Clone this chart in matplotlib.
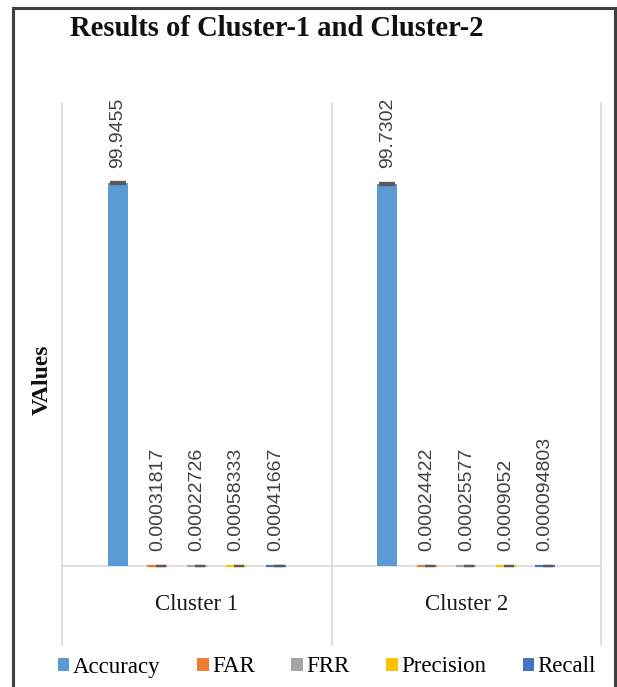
import matplotlib
matplotlib.use("Agg")
import matplotlib.pyplot as plt
from matplotlib.lines import Line2D
from matplotlib.patches import Patch
import numpy as np

# Chart data
clusters = ["Cluster 1", "Cluster 2"]
metrics = ["Accuracy", "FAR", "FRR", "Precision", "Recall"]
accuracy = [99.9455, 99.7302]
far = [0.00031817, 0.00024422]
frr = [0.00022726, 0.00025577]
precision = [0.00058333, 0.0009052]
recall = [0.00041667, 0.000094803]
label_text = {
    "Accuracy": ["99.9455", "99.7302"],
    "FAR": ["0.00031817", "0.00024422"],
    "FRR": ["0.00022726", "0.00025577"],
    "Precision": ["0.00058333", "0.0009052"],
    "Recall": ["0.00041667", "0.000094803"],
}
colors = ["#5B9BD5", "#ED7D31", "#A5A5A5", "#FFC000", "#4472C4"]

series = [accuracy, far, frr, precision, recall]

W, H = 617, 687
fig = plt.figure(figsize=(W / 100, H / 100), dpi=100)
serif = ["Liberation Serif", "DejaVu Serif"]
sans = ["Liberation Sans", "DejaVu Sans"]

# plot area in pixel coordinates
left_px, right_px, top_px, base_px = 62, 601, 106, 566
ax = fig.add_axes([left_px / W, 1 - base_px / H,
                   (right_px - left_px) / W, (base_px - top_px) / H])
ax.set_xlim(-0.5, 1.5)
ax.set_ylim(0, 120)
for s in ax.spines.values():
    s.set_visible(False)
ax.set_xticks([])
ax.set_yticks([])

x = np.arange(len(clusters))
step = 0.1465
width = 0.075
for i, (name, vals, col) in enumerate(zip(metrics, series, colors)):
    pos = x + (i - 2) * step
    big = i == 0
    ax.bar(pos, vals, width=width, color=col, zorder=3,
           edgecolor=col, linewidth=0 if big else 1.6, clip_on=False)
    ax.errorbar(pos + (0 if big else 0.012), vals,
                yerr=[0.0001 for _ in vals], fmt="none",
                ecolor="#595959", elinewidth=0,
                capsize=6 if big else 3.5,
                capthick=3 if big else 1.6, zorder=4, clip_on=False)
    for xp, v, t in zip(pos, vals, label_text[name]):
        ax.annotate(t, (xp, v), xytext=(0, 11), textcoords="offset points",
                    rotation=90, ha="center", va="bottom",
                    fontsize=14, family=sans, color="#404040")

# horizontal category axis
ax.plot([-0.5, 1.5], [0, 0], color="#D9D9D9", lw=1.2, zorder=2,
        clip_on=False)

# category separators running from the top of the plot down past the labels
sep_bottom = 1 - 645 / H
for xs in [-0.5, 0.5, 1.5]:
    xf = (left_px + (xs + 0.5) / 2 * (right_px - left_px)) / W
    fig.add_artist(Line2D([xf, xf], [sep_bottom, 1 - top_px / H + 0.004],
                          color="#D9D9D9", lw=1.2, transform=fig.transFigure))

# category names
for xi, name in zip(x, clusters):
    xf = (left_px + (xi + 0.5) / 2 * (right_px - left_px)) / W
    fig.text(xf, 1 - 604 / H, name, ha="center", va="center",
             fontsize=16.5, family=serif, color="#1a1a1a")

# title and axis label
fig.text(70 / W, 1 - 28 / H, "Results of Cluster-1 and Cluster-2",
         ha="left", va="center", fontsize=20.6, fontweight="bold",
         family=serif, color="#111111")
fig.text(42 / W, 1 - 380 / H, "VAlues", ha="center", va="center",
         rotation=90, fontsize=17, fontweight="bold", family=serif,
         color="#111111")

# legend
handles = [Patch(facecolor=c, edgecolor="none") for c in colors]
fig.legend(handles, metrics, loc="center", bbox_to_anchor=(327 / W, 1 - 667 / H),
           ncol=5, frameon=False, prop={"family": serif, "size": 16.5},
           handlelength=0.5, handleheight=0.5, handletextpad=0.15,
           columnspacing=1.6, borderaxespad=0)

# outer frame
frame_kw = dict(color="#404040", lw=2.2, transform=fig.transFigure)
l, r, t = 13 / W, 615 / W, 1 - 7.5 / H
fig.add_artist(Line2D([l, l], [-0.01, t], **frame_kw))
fig.add_artist(Line2D([r, r], [-0.01, t], **frame_kw))
fig.add_artist(Line2D([l, r], [t, t], **frame_kw))

fig.savefig("out.png", dpi=100, facecolor="white")
